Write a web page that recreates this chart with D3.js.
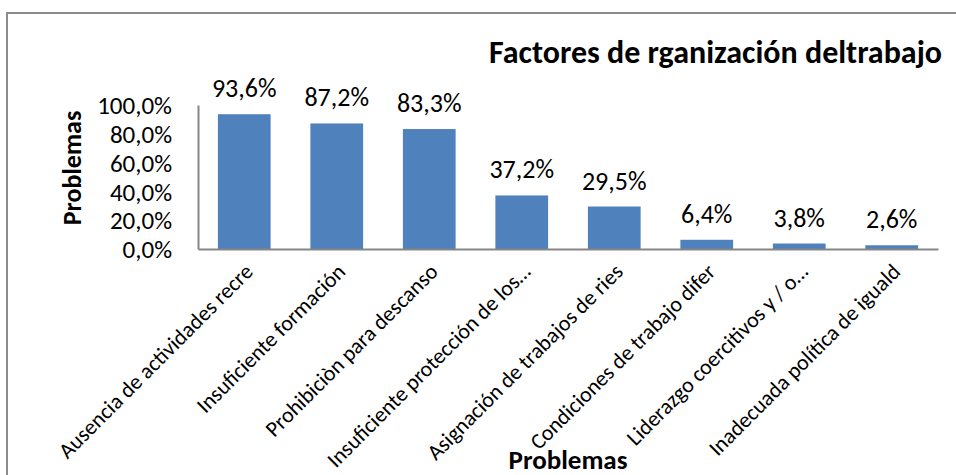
<!DOCTYPE html>
<html>
<head>
<meta charset="utf-8">
<script src="https://cdn.jsdelivr.net/npm/d3@7"></script>
<style>
  html, body { margin: 0; padding: 0; background: #fff; }
  svg text { font-family: Carlito, "Open Sans", "Liberation Sans", sans-serif; fill: #000; }
</style>
</head>
<body>
<svg id="chart" width="956" height="475"></svg>
<script>
// Factores de organización del trabajo: share of respondents reporting each problem
const categories = [
  "Ausencia de actividades recre",
  "Insuficiente formación",
  "Prohibiciòn para descanso",
  "Insuficiente protección de los…",
  "Asignación de trabajos de ries",
  "Condiciones de trabajo difer",
  "Liderazgo coercitivos y / o…",
  "Inadecuada política de iguald"
];
const values = [93.6, 87.2, 83.3, 37.2, 29.5, 6.4, 3.8, 2.6];
const yTicks = [0, 20, 40, 60, 80, 100];
const chartTitle = "Factores de rganización deltrabajo";
const axisTitle = "Problemas";

const esLocale = d3.formatLocale({ decimal: ",", thousands: ".", grouping: [3], currency: ["", " €"] });
const fmt = v => esLocale.format(".1f")(v) + "%";

const svg = d3.select("#chart");
const W = 956, H = 475;
const plot = { left: 198, right: 938, top: 105, bottom: 249 };

// outer frame (only left and top edges fall inside the view)
svg.append("path")
  .attr("d", `M7,${H} V13 H${W}`)
  .attr("fill", "none").attr("stroke", "#8c8c8c").attr("stroke-width", 2);

const x = d3.scaleBand().domain(categories).range([plot.left, plot.right]).paddingInner(0.43).paddingOuter(0.215);
const y = d3.scaleLinear().domain([0, 100]).range([plot.bottom, plot.top]);

// bars
svg.append("g").selectAll("rect").data(values).join("rect")
  .attr("x", (d, i) => x(categories[i]))
  .attr("y", d => y(d))
  .attr("width", x.bandwidth())
  .attr("height", d => y(0) - y(d))
  .attr("fill", "#4f81bd");

// value labels
svg.append("g").selectAll("text").data(values).join("text")
  .attr("x", (d, i) => x(categories[i]) + x.bandwidth() / 2)
  .attr("y", d => y(d) - 17)
  .attr("text-anchor", "middle")
  .attr("font-size", 26)
  .text(d => fmt(d));

// y axis
const yAxis = d3.axisLeft(y).tickValues(yTicks).tickSize(0).tickPadding(26).tickFormat(fmt);
const gy = svg.append("g").attr("transform", `translate(${plot.left},0)`).call(yAxis);
gy.select(".domain").attr("stroke", "#868686").attr("stroke-width", 2);
gy.selectAll("text").attr("font-size", 25).attr("fill", "#000").attr("dy", "0.35em");

// x axis
const xAxis = d3.axisBottom(x).tickSize(0).tickSizeOuter(0).tickFormat(d => d);
const gx = svg.append("g").attr("transform", `translate(0,${plot.bottom})`).call(xAxis);
gx.select(".domain").attr("stroke", "#868686").attr("stroke-width", 2);
gx.selectAll(".tick text")
  .attr("font-size", 22)
  .attr("text-anchor", "end")
  .attr("x", 0).attr("y", 0).attr("dy", 0)
  .attr("transform", "translate(10,24) rotate(-45)");

// titles
svg.append("text")
  .attr("x", 942).attr("y", 63)
  .attr("text-anchor", "end")
  .attr("font-size", 32).attr("font-weight", "bold")
  .text(chartTitle);

svg.append("text")
  .attr("transform", "translate(81,168) rotate(-90)")
  .attr("text-anchor", "middle")
  .attr("font-size", 26).attr("font-weight", "bold")
  .text(axisTitle);

svg.append("text")
  .attr("x", (plot.left + plot.right) / 2).attr("y", 469)
  .attr("text-anchor", "middle")
  .attr("font-size", 27).attr("font-weight", "bold")
  .text(axisTitle);
</script>
</body>
</html>
